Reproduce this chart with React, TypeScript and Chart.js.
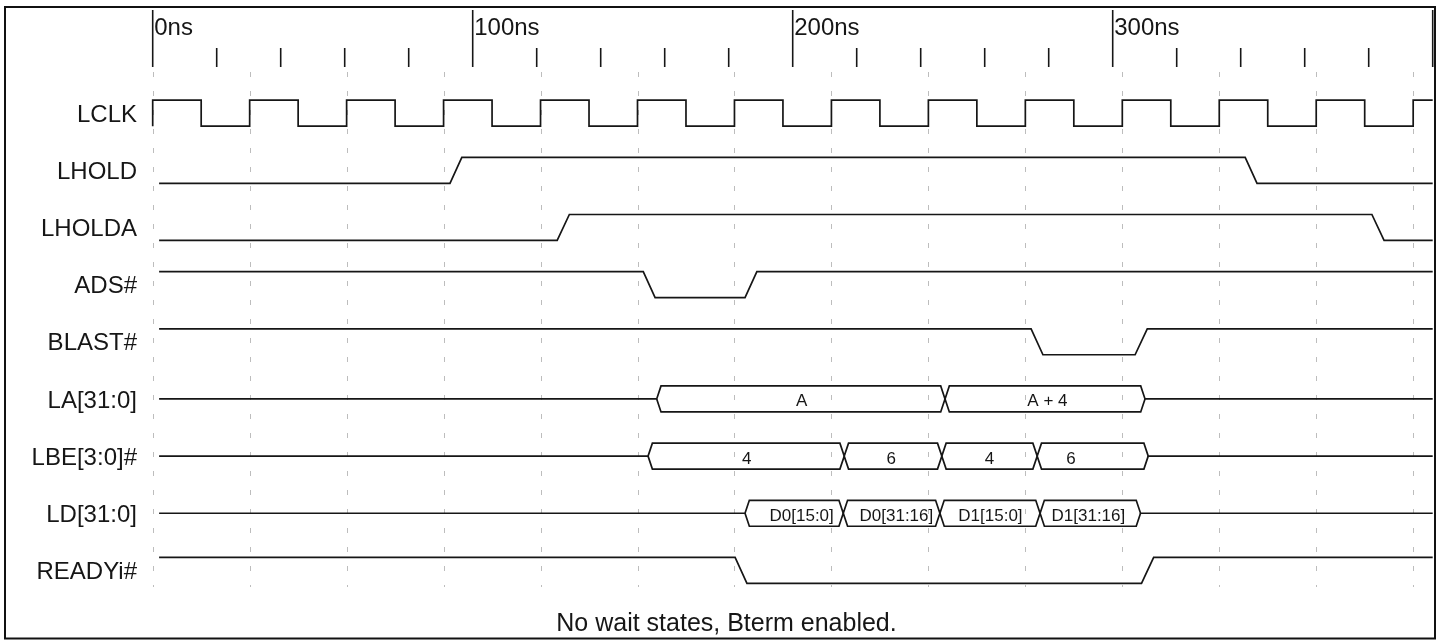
import React, { useEffect, useRef } from "react";
import { Chart, registerables } from "chart.js";

Chart.register(...registerables);

// ---------- data ----------
const signalNames = ["LCLK", "LHOLD", "LHOLDA", "ADS#", "BLAST#", "LA[31:0]", "LBE[3:0]#", "LD[31:0]", "READYi#"];

const clockRiseTimes = [0, 30.3, 60.6, 90.9, 121.2, 151.5, 181.8, 212.1, 242.4, 272.7, 303.0, 333.3, 363.6, 393.9];
const clockFallTimes = [15.15, 45.45, 75.75, 106.05, 136.35, 166.65, 196.95, 227.25, 257.55, 287.85, 318.15, 348.45, 378.75];

// digital signals: [ramp start, ramp end] in ns
const lholdRamps = [[92.9, 96.6], [341.4, 345.1]];
const lholdaRamps = [[126.4, 130.2], [381.0, 384.8]];
const adsRamps = [[153.3, 157.0], [185.1, 188.8]];
const blastRamps = [[274.5, 278.2], [307.0, 310.8]];
const readyRamps = [[182.0, 185.7], [309.0, 312.8]];

// bus signals: transition times (ns)
const laEdges = [157.5, 247.6, 310.1];
const laLabels = ["A", "A + 4"];
const laLabelTimes = [202.8, 279.6];

const lbeEdges = [154.8, 216.1, 246.6, 276.4, 311.1];
const lbeLabels = ["4", "6", "4", "6"];
const lbeLabelTimes = [185.6, 230.8, 261.5, 287.0];

const ldEdges = [185.1, 215.8, 246.0, 277.3, 308.7];
const ldLabels = ["D0[15:0]", "D0[31:16]", "D1[15:0]", "D1[31:16]"];
const ldLabelTimes = [202.8, 232.4, 261.8, 292.4];

const majorTicks = [0, 100, 200, 300, 400];
const majorTickLabels = ["0ns", "100ns", "200ns", "300ns", ""];
const minorTicks = [20, 40, 60, 80, 120, 140, 160, 180, 220, 240, 260, 280, 320, 340, 360, 380];

const footnote = "No wait states, Bterm enabled.";

// ---------- constants ----------
const T_START = 2;
const T_END = 400;
const AMP = 0.227;
const BUS_W = 1.35;
const INK = "#161616";
const FONT = '"Liberation Sans", Arial, Helvetica, sans-serif';

type P = { x: number; y: number };

function clockPoints(row: number): P[] {
  const edges = [...clockRiseTimes.map((t) => ({ t, up: true })), ...clockFallTimes.map((t) => ({ t, up: false }))].sort(
    (a, b) => a.t - b.t
  );
  const pts: P[] = [{ x: 0, y: row + AMP }];
  let level = row + AMP;
  for (const e of edges) {
    pts.push({ x: e.t, y: level });
    level = e.up ? row - AMP : row + AMP;
    pts.push({ x: e.t, y: level });
  }
  pts.push({ x: T_END, y: level });
  return pts;
}

function digitalPoints(row: number, startHigh: boolean, ramps: number[][]): P[] {
  let high = startHigh;
  const lv = () => (high ? row - AMP : row + AMP);
  const pts: P[] = [{ x: T_START, y: lv() }];
  for (const [a, b] of ramps) {
    pts.push({ x: a, y: lv() });
    high = !high;
    pts.push({ x: b, y: lv() });
  }
  pts.push({ x: T_END, y: lv() });
  return pts;
}

function busPoints(row: number, edges: number[], sign: number): P[] {
  const off = sign * AMP;
  const pts: P[] = [];
  if (sign < 0) pts.push({ x: T_START, y: row });
  edges.forEach((t, i) => {
    if (i === 0) {
      pts.push({ x: t, y: row });
      pts.push({ x: t + BUS_W, y: row + off });
    } else if (i === edges.length - 1) {
      pts.push({ x: t - BUS_W, y: row + off });
      pts.push({ x: t, y: row });
    } else {
      pts.push({ x: t - BUS_W, y: row + off });
      pts.push({ x: t, y: row });
      pts.push({ x: t + BUS_W, y: row + off });
    }
  });
  if (sign < 0) pts.push({ x: T_END, y: row });
  return pts;
}

const busTexts = [
  { row: 5, labels: laLabels, times: laLabelTimes },
  { row: 6, labels: lbeLabels, times: lbeLabelTimes },
  { row: 7, labels: ldLabels, times: ldLabelTimes },
];

const timingPlugin = {
  id: "timing",
  beforeDatasetsDraw(chart: any) {
    const { ctx, chartArea, scales } = chart;
    const x = scales.x;
    ctx.save();
    ctx.strokeStyle = "#bdbdbd";
    ctx.lineWidth = 1;
    ctx.setLineDash([5, 14]);
    for (const t of clockRiseTimes) {
      const px = Math.round(x.getPixelForValue(t)) + 0.5;
      ctx.beginPath();
      ctx.moveTo(px, chartArea.top);
      ctx.lineTo(px, chartArea.bottom);
      ctx.stroke();
    }
    ctx.restore();
  },
  afterDraw(chart: any) {
    const { ctx, scales } = chart;
    const x = scales.x;
    const y = scales.y;
    ctx.save();
    // ruler
    ctx.strokeStyle = INK;
    ctx.lineWidth = 1.6;
    majorTicks.forEach((t) => {
      const px = x.getPixelForValue(t);
      ctx.beginPath();
      ctx.moveTo(px, 10);
      ctx.lineTo(px, 67);
      ctx.stroke();
    });
    minorTicks.forEach((t) => {
      const px = x.getPixelForValue(t);
      ctx.beginPath();
      ctx.moveTo(px, 48);
      ctx.lineTo(px, 67);
      ctx.stroke();
    });
    ctx.fillStyle = INK;
    ctx.font = `24px ${FONT}`;
    ctx.textAlign = "left";
    ctx.textBaseline = "alphabetic";
    majorTicks.forEach((t, i) => {
      if (majorTickLabels[i]) ctx.fillText(majorTickLabels[i], x.getPixelForValue(t) + 1.5, 35);
    });
    // signal names
    ctx.textAlign = "right";
    signalNames.forEach((n, i) => {
      ctx.fillText(n, 137, y.getPixelForValue(i) + 8.6);
    });
    // bus texts
    ctx.font = `17px ${FONT}`;
    ctx.textAlign = "center";
    busTexts.forEach((b) => {
      b.labels.forEach((s, i) => {
        ctx.fillText(s, x.getPixelForValue(b.times[i]), y.getPixelForValue(b.row) + 7.5);
      });
    });
    // footnote
    ctx.font = `25px ${FONT}`;
    ctx.fillText(footnote, 726.5, 631);
    // frame
    ctx.strokeStyle = "#111";
    ctx.lineWidth = 2;
    ctx.strokeRect(5, 7, 1430, 631.5);
    ctx.restore();
  },
};

export default function App() {
  const ref = useRef<HTMLCanvasElement>(null);
  useEffect(() => {
    document.body.style.margin = "0";
    const canvas = ref.current!;
    const mk = (data: P[]) => ({
      data,
      borderColor: INK,
      borderWidth: 1.7,
      pointRadius: 0,
      tension: 0,
      fill: false,
      clip: false as any,
    });
    const datasets: any[] = [
      mk(clockPoints(0)),
      mk(digitalPoints(1, false, lholdRamps)),
      mk(digitalPoints(2, false, lholdaRamps)),
      mk(digitalPoints(3, true, adsRamps)),
      mk(digitalPoints(4, true, blastRamps)),
      mk(busPoints(5, laEdges, -1)),
      mk(busPoints(5, laEdges, 1)),
      mk(busPoints(6, lbeEdges, -1)),
      mk(busPoints(6, lbeEdges, 1)),
      mk(busPoints(7, ldEdges, -1)),
      mk(busPoints(7, ldEdges, 1)),
      mk(digitalPoints(8, true, readyRamps)),
    ];
    const chart = new Chart(canvas, {
      type: "line",
      data: { datasets },
      options: {
        animation: false,
        responsive: false,
        devicePixelRatio: 1,
        layout: { padding: { left: 152.7, right: 12.3, top: 72, bottom: 54 } },
        plugins: { legend: { display: false }, tooltip: { enabled: false } },
        events: [],
        scales: {
          x: { type: "linear", min: 0, max: 400, display: false },
          y: { type: "linear", min: -0.72, max: 8.29, reverse: true, display: false },
        },
      },
      plugins: [timingPlugin],
    });
    return () => chart.destroy();
  }, []);
  return (
    <div style={{ width: 1445, height: 641, background: "#fff" }}>
      <canvas ref={ref} width={1445} height={641} style={{ display: "block" }} />
    </div>
  );
}
